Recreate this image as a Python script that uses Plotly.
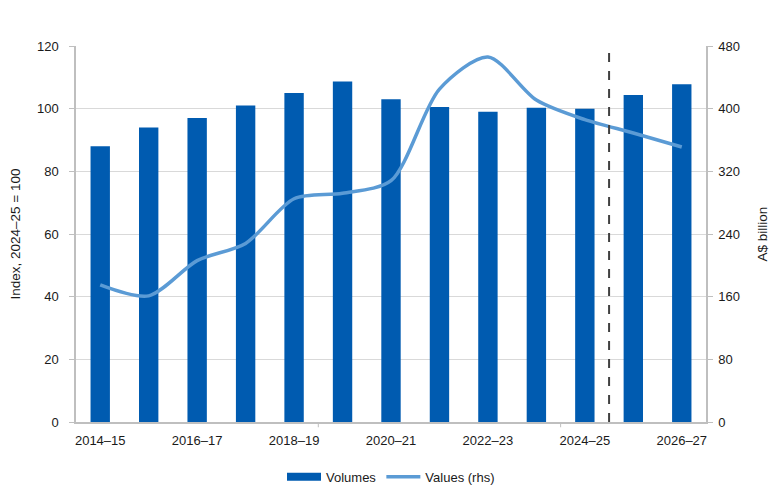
import plotly.graph_objects as go

# financial years
years = ["2014–15", "2015–16", "2016–17", "2017–18", "2018–19", "2019–20",
         "2020–21", "2021–22", "2022–23", "2023–24", "2024–25", "2025–26",
         "2026–27"]
# export volumes, index 2024-25 = 100
volumes = [88, 94, 97, 101, 105, 108.7, 103, 100.5, 99, 100.3, 100, 104.4, 107.8]
# export values, A$ billion (rhs)
values = [175, 161, 206, 228, 285, 292, 308, 425, 466, 411, 386, 369, 351]

shown_ticks = years[::2]
forecast_split = 10.5   # between 2024-25 and 2025-26

BAR_COL = "#005BB0"
LINE_COL = "#5B9BD5"

fig = go.Figure()

fig.add_trace(go.Bar(
    x=years, y=volumes, name="Volumes", showlegend=False,
    marker=dict(color=BAR_COL, line=dict(width=0)),
    width=0.4,
))

# legend stand-in so the key is a wide block like the original
fig.add_trace(go.Scatter(
    x=[None], y=[None], name="Volumes", mode="lines",
    line=dict(color=BAR_COL, width=8),
))

fig.add_trace(go.Scatter(
    x=years, y=values, name="Values (rhs)", yaxis="y2",
    mode="lines", line=dict(color=LINE_COL, width=3.5, shape="spline", smoothing=0.8),
))

# forecast divider
fig.add_shape(type="line", xref="x", yref="paper", x0=forecast_split, x1=forecast_split,
              y0=0, y1=1, line=dict(color="#404040", width=2, dash="dash"))

# excel-style tick marks on the category axis
for xb in [4.5, 9.5]:
    fig.add_shape(type="line", xref="x", yref="paper", x0=xb, x1=xb, y0=0, y1=-0.014,
                  line=dict(color="#BFBFBF", width=1))

# page body adds an 8px margin, so the margins are offset to compensate
fig.update_layout(
    width=780, height=488,
    margin=dict(l=68, r=82, t=38, b=74, autoexpand=False),
    plot_bgcolor="white", paper_bgcolor="white",
    font=dict(family="Liberation Sans, Arial, sans-serif", size=13, color="#1a1a1a"),
    bargap=0.6,
    showlegend=True,
    legend=dict(orientation="h", x=0.5, xanchor="center", y=-0.146, yanchor="middle",
                font=dict(size=13), traceorder="normal", itemwidth=34),
    xaxis=dict(
        tickmode="array", tickvals=shown_ticks, ticktext=shown_ticks,
        showline=True, linecolor="#BFBFBF", linewidth=1.5,
        showgrid=False, ticks="", range=[-0.5, 12.5], ticklabelstandoff=6,
    ),
    yaxis=dict(
        title=dict(text="Index, 2024–25 = 100", standoff=14, font=dict(size=13.5)),
        range=[0, 120], dtick=20, automargin=False, ticklabelstandoff=8,
        showline=True, linecolor="#BFBFBF", linewidth=1.5,
        showgrid=True, gridcolor="#D9D9D9", gridwidth=1.2, zeroline=False,
        ticks="outside", ticklen=5, tickcolor="#BFBFBF",
    ),
    yaxis2=dict(
        title=dict(text="A$ billion", standoff=18, font=dict(size=13.5)),
        overlaying="y", side="right", automargin=False, ticklabelstandoff=3,
        range=[0, 480], dtick=80,
        showline=True, linecolor="#BFBFBF", linewidth=1.5,
        showgrid=False, zeroline=False,
        ticks="outside", ticklen=5, tickcolor="#BFBFBF",
    ),
)

fig.write_html("out.html")
